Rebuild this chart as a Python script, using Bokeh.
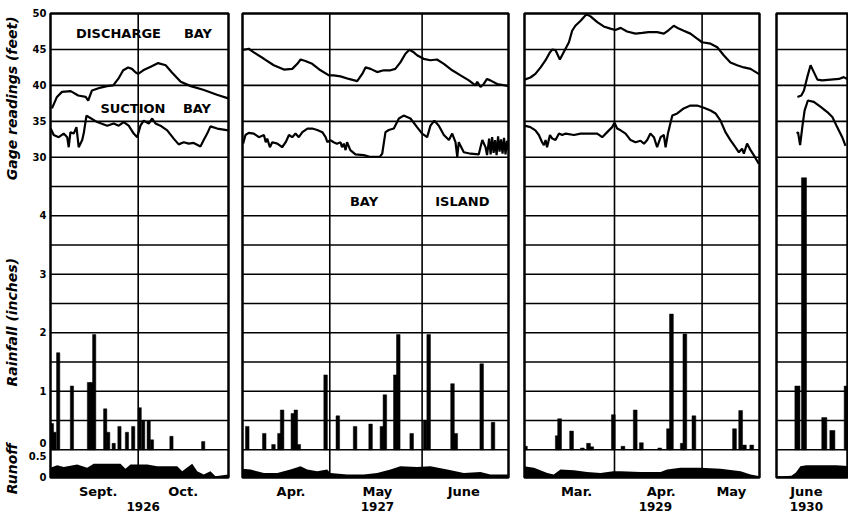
import math
from bokeh.plotting import figure
from bokeh.models import Range1d, FixedTicker, Span, Label, LinearAxis
from bokeh.layouts import row
from bokeh.embed import file_html
from bokeh.resources import INLINE

# ---------------- shared scales ----------------
GAGE_TICKS = [30, 35, 40, 45, 50]
GAGE_GRID = [35, 40, 45]
RAIN_TICKS = [0, 1, 2, 3, 4]
RAIN_GRID = [0, 0.5, 1, 1.5, 2, 2.5, 3, 3.5, 4, 4.5, 5]
RUNOFF_TICKS = [0, 0.5]

# ---------------- Panel 1 : Sept.-Oct. 1926 (x = days after Sept. 1) ----------------
P1_DIS_X = [-4.5, -2.5, -0.5, 3, 6, 9, 10, 11.5, 15, 17.5, 20, 22, 24, 26, 27.5, 29, 30, 32, 35, 38,
            41, 43.5, 47, 51, 56, 61.5, 66]
P1_DIS_Y = [36.8, 38.4, 39.1, 39.2, 38.6, 38.4, 37.9, 39.3, 39.7, 39.9, 40.0, 40.9, 42.1, 42.5, 42.3,
            41.8, 41.6, 42.1, 42.6, 43.1, 42.8, 41.8, 40.5, 39.9, 39.4, 38.7, 38.2]
P1_SUC_X = [-5, -3.8, -1.8, 0.2, 1.6, 2.2, 2.9, 4.2, 5.3, 6.2, 7.6, 8.2, 9.3, 10.2, 13.6, 17.6, 20.2,
            22.2, 24.2, 26.2, 28.2, 29.6, 30.9, 32.2, 34.2, 35.6, 36.9, 38.9, 41.6, 44.2, 46.2, 48.2,
            50.2, 52.2, 54.9, 56.2, 57.6, 58.9, 61.6, 66]
P1_SUC_Y = [34.0, 33.1, 32.8, 33.3, 32.8, 31.4, 33.5, 33.3, 34.2, 31.4, 32.4, 33.3, 35.8, 35.6, 34.9,
            34.4, 34.7, 34.4, 34.9, 34.4, 33.3, 32.8, 34.4, 35.1, 34.7, 35.4, 34.7, 34.4, 33.75, 32.6,
            31.8, 32.1, 31.9, 32.0, 31.5, 32.4, 33.3, 34.3, 34.0, 33.75]
P1_RAIN_X = [-4.5, -3.5, -2, 3.5, 10.3, 11.3, 12.4, 16.8, 18, 20.2, 22.5, 25.5, 28, 30.6, 32, 34.2,
             35.5, 43.3, 56]
P1_RAIN_V = [0.45, 0.3, 1.66, 1.09, 1.15, 1.15, 1.97, 0.70, 0.3, 0.11, 0.40, 0.30, 0.40, 0.72, 0.5,
             0.5, 0.17, 0.23, 0.14]
P1_RUN_X = [-5.1, -2.4, 0.2, 5.6, 9.6, 12.2, 22.9, 24.9, 26.9, 33.6, 37.6, 45.6, 47.6, 51.6, 53.6,
            56.2, 58.9, 60.9, 66.1]
P1_RUN_V = [0.23, 0.29, 0.25, 0.31, 0.23, 0.33, 0.33, 0.21, 0.31, 0.31, 0.27, 0.27, 0.15, 0.33, 0.15,
            0.07, 0.15, 0.03, 0.07]
P1_MONTH_POS = [14, 48]
P1_MONTH_NAMES = ["Sept.", "Oct."]
P1_MONTH_LINES = [30]
P1_YEAR = "1926"
P1_YEAR_POS = 32

# ---------------- Panel 2 : Apr.-June 1927 (x = days after Apr. 1) ----------------
P2_DIS_X = [0.9, 2.8, 4.5, 7.9, 11.2, 14.6, 17.4, 19.1, 20.2, 21.8, 24.1, 26.9, 29.7, 31.3, 33.6,
            36.4, 39.2, 40.9, 42.0, 43.7, 45.9, 48.1, 50.4, 52.0, 53.7, 55.4, 56.7, 58.2, 59.3, 61.5,
            63.8, 66.0, 68.3, 71.1, 73.9, 76.7, 78.9, 79.5, 80.6, 81.7, 82.8, 83.9, 86.2, 90.1]
P2_DIS_Y = [44.95, 45.1, 44.6, 43.7, 42.8, 42.2, 42.3, 43.0, 43.6, 43.4, 43.0, 42.1, 41.4, 41.4, 41.25,
            40.9, 40.6, 41.6, 42.5, 42.3, 41.85, 42.1, 42.1, 42.3, 43.2, 44.4, 44.95, 44.6, 44.2, 43.7,
            43.5, 43.6, 43.0, 42.1, 41.4, 40.7, 40.0, 40.5, 39.8, 40.2, 40.9, 40.7, 40.2, 39.9]
P2_SUC_X = [0.9, 1.7, 2.8, 4.5, 6.2, 7.9, 8.5, 9.0, 9.9, 10.7, 12.4, 14.0, 15.2, 16.3, 17.4, 18.5,
            19.6, 20.8, 22.5, 24.1, 25.8, 27.5, 28.6, 29.2, 30.2, 31.3, 32.4, 33.6, 34.1, 34.7, 35.3,
            35.8, 36.9, 38.6, 41.4, 43.7, 46.8, 47.6, 48.7, 49.8, 51.5, 53.2, 54.8, 57.1, 59.3, 61.0,
            62.7, 63.8, 65.1, 66.6, 68.3, 70.0, 71.1, 72.2, 72.8, 73.3, 75.0, 77.3, 80.0, 81.2, 82.3,
            82.8, 83.5, 84, 84.5, 85, 85.5, 86, 86.5, 87, 87.5, 88, 88.5, 89, 89.5, 90]
P2_SUC_Y = [31.9, 33.1, 33.4, 33.3, 32.8, 33.1, 32.1, 32.6, 31.4, 32.1, 31.9, 31.4, 32.1, 33.1, 32.8,
            33.3, 32.8, 33.5, 34.0, 34.0, 33.8, 33.5, 32.8, 32.1, 32.4, 32.1, 31.9, 32.1, 31.4, 31.9,
            31.0, 32.1, 31.0, 30.4, 30.3, 30.05, 30.05, 30.5, 33.5, 33.8, 34.0, 35.4, 35.8, 35.4, 34.2,
            33.3, 32.8, 34.4, 35.1, 34.4, 33.1, 32.4, 33.3, 32.1, 30.05, 32.1, 30.7, 30.5, 30.4, 32.4,
            31.4, 30.3, 32.6, 30.4, 32.8, 30.6, 32.4, 30.3, 32.9, 30.8, 32.5, 30.5, 32.7, 30.4, 32.3,
            31.0]
P2_RAIN_X = [2.3, 8.0, 11.1, 13.1, 14.0, 17.6, 18.6, 19.6, 28.6, 32.7, 38.5, 43.7, 47.5, 48.5, 52.0,
             53.0, 57.5, 62.0, 63.2, 71.2, 72.3, 81.0, 84.8]
P2_RAIN_V = [0.40, 0.28, 0.09, 0.28, 0.68, 0.62, 0.68, 0.09, 1.28, 0.58, 0.40, 0.44, 0.40, 0.94, 1.28,
             1.97, 0.28, 0.50, 1.97, 1.13, 0.28, 1.47, 0.47]
P2_RUN_X = [0.6, 3.4, 7.9, 12.4, 16.8, 20.2, 22.4, 25.8, 29.1, 30.2, 35.8, 41.4, 45.9, 50.4, 53.7,
            59.3, 63.8, 69.4, 75.0, 80.6, 83.9, 90.1]
P2_RUN_V = [0.21, 0.19, 0.11, 0.11, 0.19, 0.27, 0.19, 0.15, 0.19, 0.11, 0.07, 0.07, 0.11, 0.19, 0.27,
            0.25, 0.27, 0.19, 0.11, 0.13, 0.07, 0.07]
P2_MONTH_POS = [17, 46, 75]
P2_MONTH_NAMES = ["Apr.", "May", "June"]
P2_MONTH_LINES = [30, 61]
P2_YEAR = "1927"
P2_YEAR_POS = 46

# ---------------- Panel 3 : Mar.-May 1929 (x = days after Mar. 1) ----------------
P3_DIS_X = [0.2, 2.2, 3.9, 5.7, 7.4, 8.9, 9.7, 10.8, 12.3, 13.6, 15.4, 16.5, 17.6, 19.4, 21.4, 22.8,
            25.1, 27.3, 29.6, 31.3, 33.1, 35.3, 38.2, 40.5, 42.7, 45.6, 47.9, 49.6, 51.3, 53.0, 54.7,
            57.0, 59.3, 61.0, 63.9, 66.2, 68.4, 70.7, 73.0, 75.3, 77.6, 80.8]
P3_DIS_Y = [40.8, 41.1, 41.6, 42.5, 43.5, 44.6, 45.0, 44.9, 43.6, 44.6, 46.0, 47.6, 48.3, 49.0, 49.9,
            49.6, 48.8, 48.2, 47.9, 47.7, 48.0, 47.5, 47.2, 47.3, 47.4, 47.4, 47.2, 47.7, 48.3, 47.9,
            47.6, 47.2, 46.5, 46.0, 45.8, 45.3, 44.2, 43.2, 42.8, 42.5, 42.3, 41.5]
P3_SUC_X = [0.2, 2.2, 3.9, 5.1, 6.2, 6.8, 7.4, 7.9, 8.9, 9.7, 10.8, 12.0, 13.1, 14.3, 17.1, 19.4, 22.8,
            25.1, 26.8, 28.5, 30.2, 31.0, 31.9, 33.1, 34.8, 36.5, 38.2, 39.9, 41.1, 42.2, 43.3, 44.5,
            45.6, 46.8, 47.9, 48.5, 49.3, 50.8, 52.5, 54.7, 57.0, 59.3, 61.6, 63.9, 65.6, 67.3, 69.0,
            70.7, 72.4, 73.6, 74.7, 75.3, 76.4, 77.6, 78.7, 80.4]
P3_SUC_Y = [34.4, 34.2, 33.75, 33.1, 32.1, 31.7, 32.4, 31.4, 33.1, 32.6, 32.4, 33.3, 33.1, 33.3, 33.1,
            33.3, 33.3, 33.3, 32.8, 33.5, 34.2, 34.8, 34.0, 33.75, 33.3, 32.4, 32.1, 32.3, 31.9, 32.4,
            33.3, 32.8, 31.4, 32.8, 33.1, 31.4, 33.3, 35.8, 36.1, 36.8, 37.2, 37.2, 36.9, 36.5, 36.1,
            35.1, 33.5, 32.4, 31.4, 30.7, 31.2, 30.5, 31.9, 31.0, 30.3, 29.1]
P3_RAIN_X = [0.5, 11.4, 12.2, 16.3, 20.0, 22.1, 23.2, 30.6, 33.9, 38.1, 40.2, 46.5, 49.5, 50.5, 54.2,
             55.1, 58.2, 72.1, 74.2, 75.5, 78.0]
P3_RAIN_V = [0.06, 0.24, 0.53, 0.32, 0.03, 0.11, 0.05, 0.60, 0.06, 0.68, 0.12, 0.03, 0.36, 2.32, 0.11,
             1.98, 0.58, 0.36, 0.67, 0.08, 0.08]
P3_RUN_X = [0, 3.4, 8.0, 10.2, 12.5, 17.1, 21.6, 26.2, 30.6, 33.1, 39.9, 46.8, 49.0, 53.6, 60.5, 67.3,
            74.2, 77.6, 81.0]
P3_RUN_V = [0.27, 0.23, 0.11, 0.07, 0.19, 0.17, 0.13, 0.11, 0.15, 0.15, 0.13, 0.13, 0.19, 0.23, 0.23,
            0.21, 0.15, 0.07, 0.03]
P3_MONTH_POS = [18, 47, 71]
P3_MONTH_NAMES = ["Mar.", "Apr.", "May"]
P3_MONTH_LINES = [31, 61]
P3_YEAR = "1929"
P3_YEAR_POS = 45

# ---------------- Panel 4 : June 1930 (x = days from panel start) ----------------
P4_DIS_X = [7.0, 8.3, 9.2, 10.3, 11.4, 12.5, 13.7, 15.3, 18.1, 20.9, 22.5, 24.1]
P4_DIS_Y = [38.4, 38.6, 39.3, 41.15, 42.8, 41.85, 40.8, 40.7, 40.8, 40.9, 41.15, 40.8]
P4_SUC_X = [6.8, 7.2, 7.9, 8.7, 9.4, 10.5, 12.5, 14.8, 17.0, 18.7, 20.3, 22.0, 23.1]
P4_SUC_Y = [33.3, 33.5, 31.7, 34.4, 36.5, 37.9, 37.7, 37.0, 36.3, 35.6, 34.2, 32.8, 31.6]
P4_RAIN_X = [7.0, 9.2, 16.0, 18.7, 23.5]
P4_RAIN_V = [1.09, 4.65, 0.55, 0.33, 1.09]
P4_RUN_X = [-0.5, 2, 5, 6.5, 8, 10, 15, 20, 24.5]
P4_RUN_V = [0.03, 0.03, 0.04, 0.12, 0.27, 0.29, 0.29, 0.29, 0.27]
P4_MONTH_POS = [10]
P4_MONTH_NAMES = ["June"]
P4_MONTH_LINES = []
P4_YEAR = "1930"
P4_YEAR_POS = 10

# ---------------- scale titles (placed on their own scale) ----------------
TITLES = [("Gage readings (feet)", "gage", 38.2),
          ("Rainfall (inches)", "rain", 2.18),
          ("Runoff", "runoff", 0.21)]

# ---------------- layout / styling constants ----------------
FONT = "DejaVu Sans"
HEIGHT = 515
TOP = 13
BOTTOM = 38
RAIN_RANGE = (-0.4735, 7.458)
GAGE_RANGE = (-14.53, 50.0)
RUNOFF_RANGE = (0.0, 11.05)
RANGES = {"rain": RAIN_RANGE, "gage": GAGE_RANGE, "runoff": RUNOFF_RANGE}

PANELS = [
    dict(left=50, right=2, frame_w=178, xr=(-5.08, 66.12), bar_w=1.3,
         dis=(P1_DIS_X, P1_DIS_Y), suc=(P1_SUC_X, P1_SUC_Y), rain=(P1_RAIN_X, P1_RAIN_V),
         run=(P1_RUN_X, P1_RUN_V), months=(P1_MONTH_POS, P1_MONTH_NAMES), lines=P1_MONTH_LINES,
         year=(P1_YEAR, P1_YEAR_POS)),
    dict(left=12, right=2, frame_w=266, xr=(0.7, 90.0), bar_w=1.2,
         dis=(P2_DIS_X, P2_DIS_Y), suc=(P2_SUC_X, P2_SUC_Y), rain=(P2_RAIN_X, P2_RAIN_V),
         run=(P2_RUN_X, P2_RUN_V), months=(P2_MONTH_POS, P2_MONTH_NAMES), lines=P2_MONTH_LINES,
         year=(P2_YEAR, P2_YEAR_POS)),
    dict(left=14, right=2, frame_w=235, xr=(0.18, 80.66), bar_w=1.3,
         dis=(P3_DIS_X, P3_DIS_Y), suc=(P3_SUC_X, P3_SUC_Y), rain=(P3_RAIN_X, P3_RAIN_V),
         run=(P3_RUN_X, P3_RUN_V), months=(P3_MONTH_POS, P3_MONTH_NAMES), lines=P3_MONTH_LINES,
         year=(P3_YEAR, P3_YEAR_POS)),
    dict(left=15, right=0, frame_w=72, xr=(0.0, 24.1), bar_w=1.7,
         dis=(P4_DIS_X, P4_DIS_Y), suc=(P4_SUC_X, P4_SUC_Y), rain=(P4_RAIN_X, P4_RAIN_V),
         run=(P4_RUN_X, P4_RUN_V), months=(P4_MONTH_POS, P4_MONTH_NAMES), lines=P4_MONTH_LINES,
         year=(P4_YEAR, P4_YEAR_POS)),
]


def to_rain(v, scale):
    """Map a value of one of the stacked scales onto the (primary) rainfall scale."""
    lo, hi = RANGES[scale]
    return RAIN_RANGE[0] + (v - lo) / (hi - lo) * (RAIN_RANGE[1] - RAIN_RANGE[0])


def txt(**kw):
    base = dict(text_font=FONT, text_font_style="bold", text_color="black",
                text_align="center", text_baseline="middle", text_font_size="12px")
    base.update(kw)
    return Label(**base)


def style_axis(ax, standoff, size, font_style="bold"):
    ax.axis_line_color = None
    ax.major_tick_line_color = None
    ax.minor_tick_line_color = None
    ax.major_tick_out = 0
    ax.major_tick_in = 0
    ax.minor_tick_out = 0
    ax.minor_tick_in = 0
    ax.major_label_standoff = standoff
    ax.major_label_text_font = FONT
    ax.major_label_text_font_style = font_style
    ax.major_label_text_font_size = size
    ax.major_label_text_color = "black"


def make_panel(cfg):
    p = figure(width=cfg["left"] + cfg["frame_w"] + cfg["right"], height=HEIGHT,
               x_range=Range1d(*cfg["xr"]), y_range=Range1d(*RAIN_RANGE),
               y_axis_location=None, output_backend="svg", toolbar_location=None,
               min_border_left=cfg["left"], min_border_right=cfg["right"],
               min_border_top=TOP, min_border_bottom=BOTTOM,
               background_fill_color="white", border_fill_color="white")
    p.outline_line_color = "black"
    p.outline_line_width = 2.5
    p.extra_y_ranges = {"gage": Range1d(*GAGE_RANGE), "runoff": Range1d(*RUNOFF_RANGE)}
    p.xgrid.visible = False
    p.ygrid.visible = False

    # grid lines
    for v in RAIN_GRID:
        p.add_layout(Span(location=v, dimension="width", line_color="black",
                          line_width=1.6, level="underlay"))
    for v in GAGE_GRID:
        p.add_layout(Span(location=v, dimension="width", y_range_name="gage",
                          line_color="black", line_width=1.6, level="underlay"))
    for m in cfg["lines"]:
        p.add_layout(Span(location=m, dimension="height", line_color="black",
                          line_width=1.6, level="underlay"))

    # data
    rx, rv = cfg["run"]
    p.varea(x=rx, y1=0, y2=rv, y_range_name="runoff", fill_color="black")
    bx, bv = cfg["rain"]
    p.vbar(x=bx, top=bv, bottom=0, width=cfg["bar_w"], fill_color="black",
           line_color="black", line_width=0.5)
    dx, dy = cfg["dis"]
    p.line(dx, dy, y_range_name="gage", line_color="black", line_width=2.2)
    sx, sy = cfg["suc"]
    p.line(sx, sy, y_range_name="gage", line_color="black", line_width=2.2)

    # month axis
    mpos, mnames = cfg["months"]
    ax = p.xaxis[0]
    ax.ticker = FixedTicker(ticks=mpos)
    ax.major_label_overrides = {k: v for k, v in zip(mpos, mnames)}
    style_axis(ax, 6, "13px")

    # year axis below the months
    yr, ypos = cfg["year"]
    yax = LinearAxis(ticker=FixedTicker(ticks=[ypos]), major_label_overrides={ypos: yr})
    style_axis(yax, 0, "12px")
    p.add_layout(yax, "below")
    return p


figs = [make_panel(c) for c in PANELS]
p1, p2 = figs[0], figs[1]

# ---- panel 1: one left axis carrying the three stacked scales ----
scale_ticks = {}
for v in GAGE_TICKS:
    scale_ticks[to_rain(v, "gage")] = str(v)
for v in RAIN_TICKS:
    scale_ticks[to_rain(v, "rain")] = ("0\n" if v == 0 else str(v))
for v in RUNOFF_TICKS:
    scale_ticks[to_rain(v, "runoff")] = str(v)
scale_axis = LinearAxis(ticker=FixedTicker(ticks=sorted(scale_ticks)),
                        major_label_overrides=scale_ticks)
style_axis(scale_axis, 4, "10px")
p1.add_layout(scale_axis, "left")

# ---- outer left axis carrying the rotated scale titles ----
title_ticks = {to_rain(v, s): t for t, s, v in TITLES}
title_axis = LinearAxis(ticker=FixedTicker(ticks=sorted(title_ticks)),
                        major_label_overrides=title_ticks,
                        major_label_orientation="parallel")
style_axis(title_axis, 5, "14px", "bold italic")
p1.add_layout(title_axis, "left")

# ---- in-plot captions ----
cap = dict(text_font_size="13px")
p1.add_layout(txt(x=22.1, y=47.2, y_range_name="gage", text="DISCHARGE", **cap))
p1.add_layout(txt(x=53.9, y=47.2, y_range_name="gage", text="BAY", **cap))
p1.add_layout(txt(x=27.9, y=36.8, y_range_name="gage", text="SUCTION", **cap))
p1.add_layout(txt(x=53.5, y=36.8, y_range_name="gage", text="BAY", **cap))
p2.add_layout(txt(x=41.5, y=4.24, text="BAY", **cap))
p2.add_layout(txt(x=74.5, y=4.24, text="ISLAND", **cap))

layout = row(*figs)
open("out.html", "w").write(file_html(layout, INLINE, title="Gage readings, rainfall and runoff"))
